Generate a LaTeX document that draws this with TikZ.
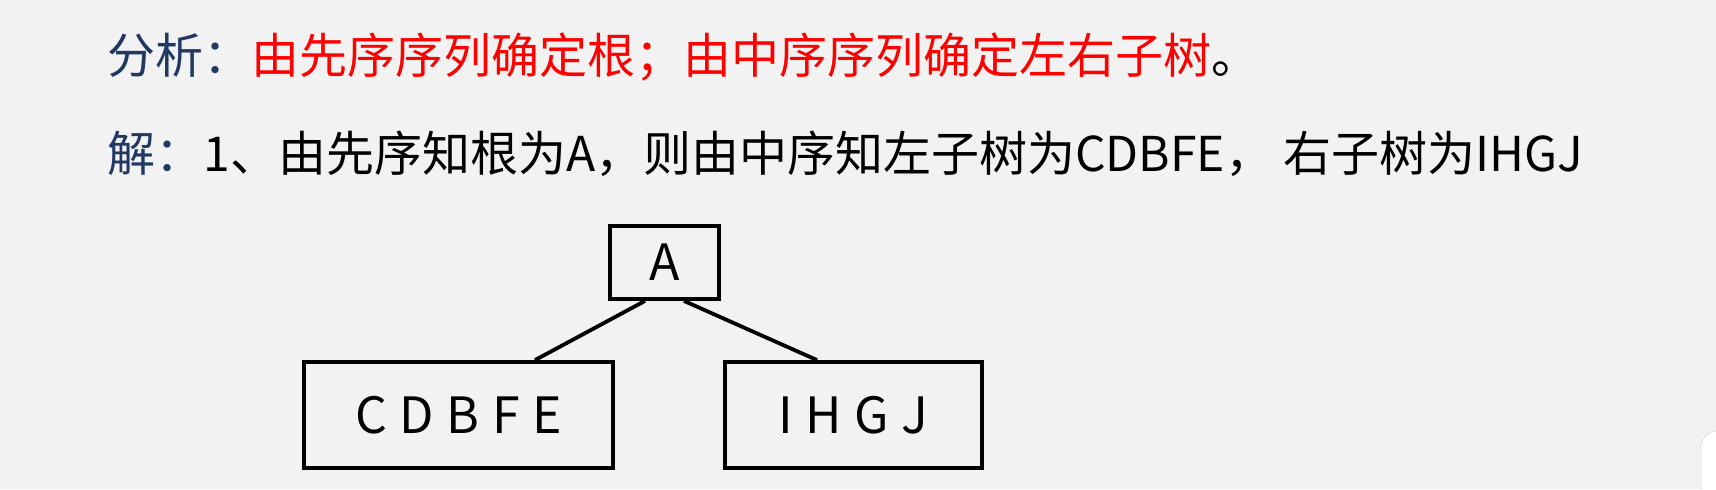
\documentclass[tikz,border=0pt]{standalone}
\usepackage{fontspec}
\setmainfont{Noto Sans CJK SC}
\usetikzlibrary{calc}
\definecolor{bgc}{HTML}{F2F2F2}
\definecolor{headblue}{HTML}{1F3864}
\definecolor{keyred}{HTML}{FF0000}
\tikzset{
  linetext/.style={anchor=base west, inner sep=0pt, font=\fontsize{24pt}{28pt}\selectfont},
  treebox/.style={draw=black, line width=1.9pt, inner sep=0pt, font=\fontsize{25pt}{30pt}\selectfont},
  treeedge/.style={draw=black, line width=1.9pt}
}
\begin{document}
\begin{tikzpicture}[x=0.5pt,y=-0.5pt]
\useasboundingbox (0,0) rectangle (1716,489);
\fill[bgc] (0,0) rectangle (1716,489);
\fill[white, draw=black!12, rounded corners=8pt] (1701,431) rectangle (1760,540);
\node[linetext] (l1) at (107,73) {\textcolor{headblue}{分析：}\textcolor{keyred}{由先序序列确定根；由中序序列确定左右子树}。};
\node[linetext] (l2) at (107,171) {\textcolor{headblue}{解：}1、由先序知根为A，则由中序知左子树为CDBFE， 右子树为IHGJ};
\node[treebox, minimum width=54.5pt, minimum height=36.5pt] (A) at (664.5,262.5) {A};
\node[treebox, minimum width=154.5pt, minimum height=53pt] (L) at (458.5,415) {C\hspace{0.25em}D\hspace{0.25em}B\hspace{0.25em}F\hspace{0.25em}E};
\node[treebox, minimum width=128.5pt, minimum height=53pt] (R) at (853.5,415) {I\hspace{0.25em}H\hspace{0.25em}G\hspace{0.25em}J};
\draw[treeedge] ([xshift=-9.75pt]A.south) -- ([xshift=38.25pt]L.north);
\draw[treeedge] ([xshift=9.75pt]A.south) -- ([xshift=-18.25pt]R.north);
\end{tikzpicture}
\end{document}
